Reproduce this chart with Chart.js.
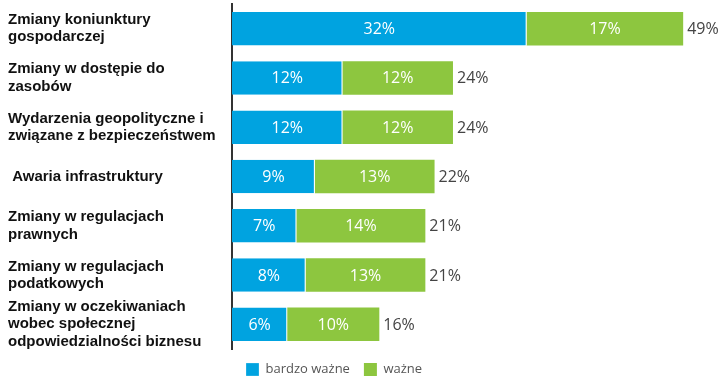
<!DOCTYPE html>
<html>
<head>
<meta charset="utf-8">
<script src="https://cdn.jsdelivr.net/npm/chart.js@4"></script>
<style>
  body { margin: 0; background: #fff; }
  #wrap { width: 725px; height: 386px; position: relative; }
</style>
</head>
<body>
<div id="wrap"><canvas id="chart"></canvas></div>
<script>
// categories (multi-line labels)
const categories = [
    ['Zmiany koniunktury', 'gospodarczej'],
    ['Zmiany w dostępie do', 'zasobów'],
    ['Wydarzenia geopolityczne i', 'związane z bezpieczeństwem'],
    ' Awaria infrastruktury',
    ['Zmiany w regulacjach', 'prawnych'],
    ['Zmiany w regulacjach', 'podatkowych'],
    ['Zmiany w oczekiwaniach', 'wobec społecznej', 'odpowiedzialności biznesu']
];
const seriesNames = ['bardzo ważne', 'ważne'];
const bardzoWazne = [32, 12, 12, 9, 7, 8, 6];
const wazne = [17, 12, 12, 13, 14, 13, 10];

const BLUE = '#00a3e0';
const GREEN = '#8dc63f';

// draws the % values inside bars and totals at the end
const valueLabels = {
    id: 'valueLabels',
    afterDatasetsDraw(chart) {
        const ctx = chart.ctx;
        ctx.save();
        ctx.font = '16px "Open Sans"';
        ctx.textBaseline = 'middle';
        chart.data.datasets.forEach((ds, i) => {
            const meta = chart.getDatasetMeta(i);
            meta.data.forEach((bar, j) => {
                ctx.fillStyle = '#fff';
                ctx.textAlign = 'center';
                ctx.fillText(ds.data[j] + '%', (bar.x + bar.base) / 2, bar.y + 1);
                if (i === chart.data.datasets.length - 1) {
                    const total = chart.data.datasets.reduce((s, d) => s + d.data[j], 0);
                    ctx.fillStyle = '#444';
                    ctx.textAlign = 'left';
                    ctx.fillText(total + '%', bar.x + 4, bar.y + 1);
                }
            });
        });
        ctx.restore();
    }
};

const ctx = document.getElementById('chart').getContext('2d');
new Chart(ctx, {
    type: 'bar',
    data: {
        labels: categories,
        datasets: [{
            label: seriesNames[0],
            data: bardzoWazne,
            backgroundColor: BLUE,
            borderColor: '#fff',
            borderWidth: { right: 1 },
            borderSkipped: false
        }, {
            label: seriesNames[1],
            data: wazne,
            backgroundColor: GREEN,
            borderWidth: 0
        }]
    },
    options: {
        indexAxis: 'y',
        responsive: true,
        maintainAspectRatio: false,
        animation: false,
        categoryPercentage: 1,
        barPercentage: 0.68,
        layout: { padding: { left: 8, right: 5, top: 4, bottom: 0 } },
        scales: {
            x: {
                stacked: true,
                display: false,
                min: 0,
                max: 53
            },
            y: {
                stacked: true,
                grid: { display: false },
                border: { display: true, color: '#333', width: 2 },
                ticks: {
                    autoSkip: false,
                    crossAlign: 'far',
                    color: '#111',
                    padding: 6,
                    font: { family: '"Liberation Sans", Arial', size: 15, weight: 'bold', lineHeight: 1.15 }
                },
                afterFit(scale) {
                    scale.width = 224;
                    scale.paddingTop = 0;
                    scale.paddingBottom = 0;
                }
            }
        },
        plugins: {
            legend: {
                position: 'bottom',
                fullSize: false,
                align: 'start',
                labels: {
                    boxWidth: 13,
                    boxHeight: 13,
                    padding: 14,
                    color: '#555',
                    font: { family: '"Open Sans"', size: 13 }
                }
            },
            tooltip: { enabled: false }
        }
    },
    plugins: [valueLabels]
});
</script>
</body>
</html>
